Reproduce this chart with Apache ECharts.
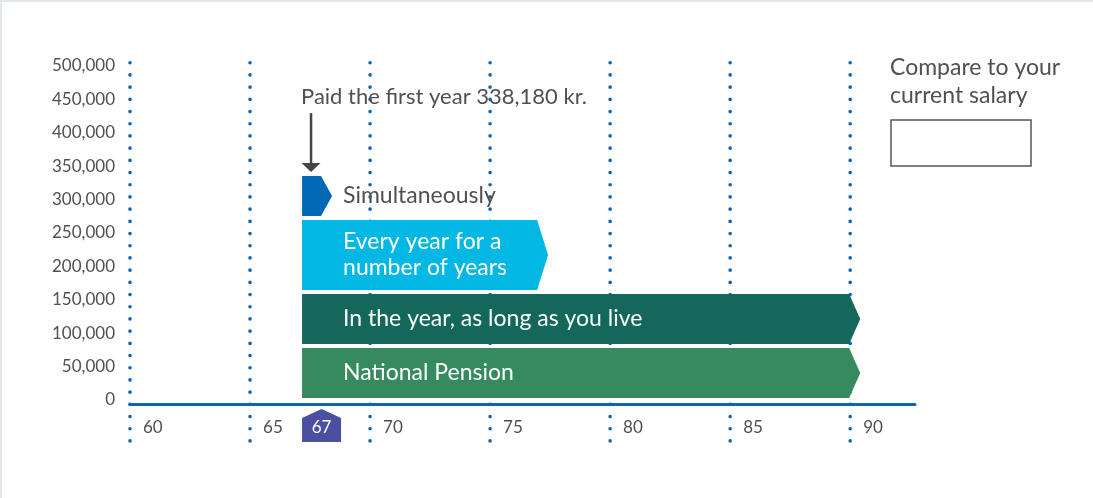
<!DOCTYPE html>
<html>
<head>
<meta charset="utf-8">
<script src="https://cdn.jsdelivr.net/npm/echarts@6/dist/echarts.min.js"></script>
<style>
  html, body { margin: 0; padding: 0; background: #fff; }
  #chart { width: 1093px; height: 498px; }
</style>
</head>
<body>
<div id="chart"></div>
<script>
// ages shown on the x axis (dotted guides)
var ages = [60, 65, 70, 75, 80, 85, 90];
var yTicks = [0, 50000, 100000, 150000, 200000, 250000, 300000, 350000, 400000, 450000, 500000];

// payout blocks, stacked from the bottom
var payoutNames = ['National Pension', 'In the year, as long as you live', 'Every year for a\nnumber of years', 'Simultaneously'];
var payoutAmounts = [80800, 80900, 110800, 65680];
var payoutStart = [67, 67, 67, 67];
var payoutEnd = [90, 90, 77, 68];
var payoutColors = ['#368a5f', '#13685b', '#00b8e3', '#0068b4'];

var retirementAge = 67;
var firstYearTotal = 338180;

var textColor = '#505050';
var blue = '#0a66b5';
var font = 'Lato, "Open Sans", sans-serif';

// build stacked rows [start, end, low, high, index]
var rows = [];
var acc = 0;
for (var i = 0; i < payoutAmounts.length; i++) {
    rows.push([payoutStart[i], payoutEnd[i], acc, acc + payoutAmounts[i], i]);
    acc += payoutAmounts[i];
}

var chart = echarts.init(document.getElementById('chart'));

chart.setOption({
    animation: false,
    grid: { left: 130, right: 178, top: 66, bottom: 98 },
    xAxis: {
        type: 'value',
        min: 60,
        max: 92.7,
        interval: 5,
        offset: 4,
        axisLine: { show: true, onZero: false, lineStyle: { color: blue, width: 3 } },
        axisTick: { show: false },
        splitLine: { show: false },
        axisLabel: {
            color: textColor,
            fontFamily: font,
            fontSize: 17,
            align: 'left',
            margin: 15,
            padding: [0, 0, 0, 13],
            showMaxLabel: false,
            formatter: function(v) { return ages.indexOf(v) >= 0 ? String(v) : ''; }
        }
    },
    yAxis: {
        type: 'value',
        min: yTicks[0],
        max: yTicks[yTicks.length - 1],
        interval: 50000,
        axisLine: { show: false },
        axisTick: { show: false },
        splitLine: { show: false },
        axisLabel: {
            color: textColor,
            fontFamily: font,
            fontSize: 17,
            margin: 15,
            formatter: function(v) { return v.toLocaleString('en-US'); }
        }
    },
    graphic: [
        { type: 'rect', shape: { x: 0, y: 0, width: 1093, height: 2 }, style: { fill: '#e1e6ea' }, silent: true },
        { type: 'rect', shape: { x: 0, y: 0, width: 2, height: 498 }, style: { fill: '#e1e6ea' }, silent: true },
        {
            type: 'text', left: 890, top: 54,
            style: { text: 'Compare to your\ncurrent salary', fill: textColor, font: '23px ' + font, lineHeight: 28 }
        },
        {
            type: 'rect', shape: { x: 891, y: 120, width: 140, height: 46 },
            style: { fill: '#fff', stroke: '#555', lineWidth: 1.5 }
        }
    ],
    series: [
        {
            // dotted vertical guides
            type: 'custom',
            z: 1,
            silent: true,
            data: ages.map(function(a) { return [a]; }),
            renderItem: function(params, api) {
                var top = api.coord([api.value(0), yTicks[yTicks.length - 1]]);
                var bot = api.coord([api.value(0), 0]);
                return {
                    type: 'line',
                    shape: { x1: top[0], y1: top[1] - 3.3, x2: bot[0], y2: bot[1] + 45.5 },
                    style: { stroke: blue, lineWidth: 3.6, lineCap: 'round', lineDash: [0.1, 12.1] }
                };
            }
        },
        {
            // payout arrows
            type: 'custom',
            z: 3,
            clip: false,
            data: rows,
            renderItem: function(params, api) {
                var idx = api.value(4);
                var s = api.coord([api.value(0), api.value(3)]);
                var e = api.coord([api.value(1), api.value(2)]);
                var x0 = s[0] + 4, x1 = e[0] - 1;
                var yTop = s[1] + 2, yBot = e[1] - 2;
                var mid = (yTop + yBot) / 2;
                var tip = 11;
                var outside = idx === payoutNames.length - 1;
                return {
                    type: 'group',
                    children: [
                        {
                            type: 'polygon',
                            shape: { points: [[x0, yTop], [x1, yTop], [x1 + tip, mid], [x1, yBot], [x0, yBot]] },
                            style: { fill: payoutColors[idx] }
                        },
                        {
                            type: 'text',
                            x: x0 + 41,
                            y: mid,
                            style: {
                                text: payoutNames[idx],
                                fill: outside ? textColor : '#fff',
                                font: '23px ' + font,
                                lineHeight: 26,
                                verticalAlign: 'middle',
                                align: 'left'
                            }
                        }
                    ]
                };
            }
        },
        {
            // annotation for the first year total
            type: 'custom',
            z: 4,
            clip: false,
            silent: true,
            data: [[retirementAge, firstYearTotal]],
            renderItem: function(params, api) {
                var p = api.coord([api.value(0), api.value(1)]);
                var x = p[0] + 13;
                var y = p[1];
                return {
                    type: 'group',
                    children: [
                        {
                            type: 'line',
                            shape: { x1: x, y1: y - 61, x2: x, y2: y - 11 },
                            style: { stroke: '#444', lineWidth: 2.5 }
                        },
                        {
                            type: 'polygon',
                            shape: { points: [[x - 9.5, y - 11], [x + 9.5, y - 11], [x, y - 2]] },
                            style: { fill: '#444' }
                        },
                        {
                            type: 'text',
                            x: p[0] + 3,
                            y: y - 77,
                            style: {
                                text: 'Paid the first year ' + firstYearTotal.toLocaleString('en-US') + ' kr.',
                                fill: textColor,
                                font: '22px ' + font,
                                verticalAlign: 'middle',
                                align: 'left'
                            }
                        }
                    ]
                };
            }
        },
        {
            // retirement age badge
            type: 'custom',
            z: 4,
            clip: false,
            silent: true,
            data: [[retirementAge]],
            renderItem: function(params, api) {
                var p = api.coord([api.value(0), 0]);
                var x0 = p[0] + 4, w = 39;
                var y0 = p[1];
                return {
                    type: 'group',
                    children: [
                        {
                            type: 'polygon',
                            shape: { points: [[x0, y0 + 18], [x0 + w / 2, y0 + 9], [x0 + w, y0 + 18], [x0 + w, y0 + 42], [x0, y0 + 42]] },
                            style: { fill: '#4b4fa2' }
                        },
                        {
                            type: 'text',
                            x: x0 + w / 2,
                            y: y0 + 28,
                            style: {
                                text: String(api.value(0)),
                                fill: '#fff',
                                font: '17px ' + font,
                                align: 'center',
                                verticalAlign: 'middle'
                            }
                        }
                    ]
                };
            }
        }
    ]
});
</script>
</body>
</html>
